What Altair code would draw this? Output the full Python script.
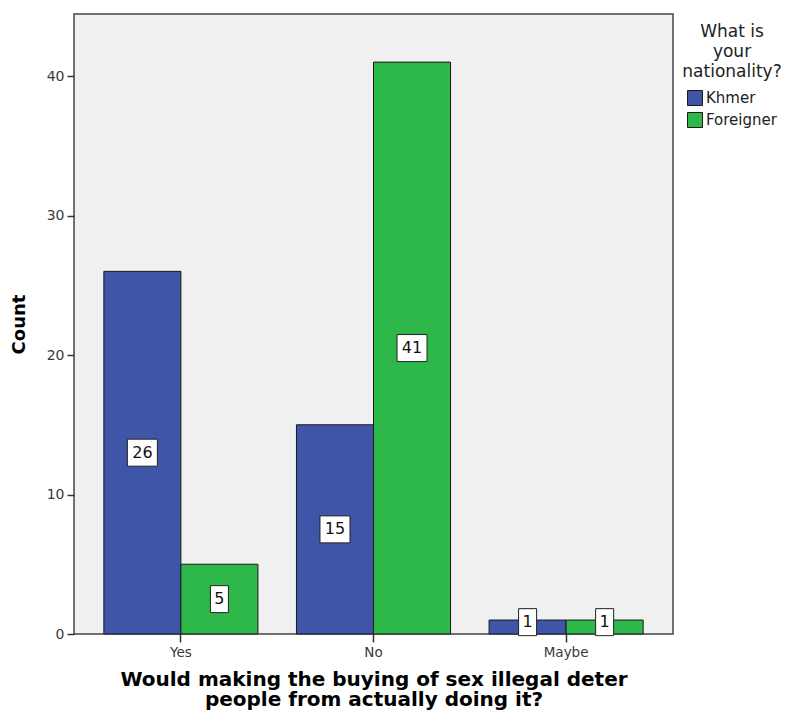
import altair as alt
import pandas as pd

answers = ["Yes", "No", "Maybe"]
groups = ["Khmer", "Foreigner"]
khmer_counts = [26, 15, 1]
foreigner_counts = [5, 41, 1]
colors = ["#3E55A8", "#2EB84A"]

rows = []
for i, a in enumerate(answers):
    rows.append({"answer": a, "nat": "Khmer", "count": khmer_counts[i]})
    rows.append({"answer": a, "nat": "Foreigner", "count": foreigner_counts[i]})
df = pd.DataFrame(rows)

FONT = "DejaVu Sans"
x_enc = alt.X("answer:N", sort=answers,
              scale=alt.Scale(paddingInner=0.2, paddingOuter=0.155),
              axis=alt.Axis(title=["Would making the buying of sex illegal deter",
                                   "people from actually doing it?"],
                            labelAngle=0, labelFontSize=13.5, labelColor="#3a3a3a",
                            labelFont=FONT, tickSize=8, tickColor="#333333",
                            tickWidth=1.5,
                            domain=False, labelPadding=3,
                            titleFont=FONT, titleFontSize=20, titleFontWeight="bold",
                            titleColor="#000000", titlePadding=11, titleLineHeight=20))
xoff = alt.XOffset("nat:N", sort=groups)
y_scale = alt.Scale(domain=[0, 44.45], nice=False)

bars = alt.Chart(df).mark_bar(stroke="#1a1a1a", strokeWidth=1).encode(
    x=x_enc,
    xOffset=xoff,
    y=alt.Y("count:Q", scale=y_scale,
            axis=alt.Axis(title="Count", values=[0, 10, 20, 30, 40], grid=False,
                          domain=False, tickSize=7, tickColor="#333333",
                          tickWidth=1.5,
                          labelFontSize=14, labelColor="#3a3a3a", labelFont=FONT,
                          labelPadding=3,
                          titleFont=FONT, titleFontSize=18, titleFontWeight="bold",
                          titleColor="#000000", titleX=-46, titleY=310)),
    color=alt.Color("nat:N", sort=groups,
                    scale=alt.Scale(domain=groups, range=colors),
                    legend=alt.Legend(title=["What is", "your", "nationality?"],
                                      orient="none", legendX=608, legendY=10,
                                      padding=0,
                                      titleAlign="center", titleAnchor="middle",
                                      titleFont=FONT, titleFontSize=17,
                                      titleFontWeight="normal", titleColor="#222222",
                                      titleLineHeight=20, titlePadding=9,
                                      labelFont=FONT, labelFontSize=15,
                                      labelColor="#222222", symbolType="square",
                                      symbolSize=225, symbolStrokeColor="#1a1a1a",
                                      symbolStrokeWidth=1, rowPadding=2,
                                      labelOffset=3)),
)

path2 = "M-1,-0.9L1,-0.9L1,0.9L-1,0.9Z"
path1 = "M-0.6,-0.9L0.6,-0.9L0.6,0.9L-0.6,0.9Z"

base_lbl = alt.Chart(df).transform_calculate(
    mid="max(datum.count / 2, 0.85)",
    digits="datum.count >= 10 ? 'two' : 'one'",
)

boxes = base_lbl.mark_point(filled=True, fill="white", stroke="#222222",
                            strokeWidth=1, opacity=1, size=900).encode(
    x=alt.X("answer:N", sort=answers),
    xOffset=xoff,
    y=alt.Y("mid:Q", scale=y_scale),
    shape=alt.Shape("digits:N", scale=alt.Scale(domain=["one", "two"], range=[path1, path2]),
                    legend=None),
)

texts = base_lbl.mark_text(font=FONT, fontSize=16, color="#111111",
                           baseline="middle", align="center").encode(
    x=alt.X("answer:N", sort=answers),
    xOffset=xoff,
    y=alt.Y("mid:Q", scale=y_scale),
    text="count:Q",
)

chart = alt.layer(bars, boxes, texts).properties(
    width=599, height=620,
    background="white",
    autosize=alt.AutoSizeParams(type="none"),
    padding={"left": 66, "top": 6, "right": 113, "bottom": 78},
).configure_view(
    fill="#F0F0F0", stroke="#444444", strokeWidth=1.5
)

chart.save("out.html", embed_options={"renderer": "svg", "actions": False})
